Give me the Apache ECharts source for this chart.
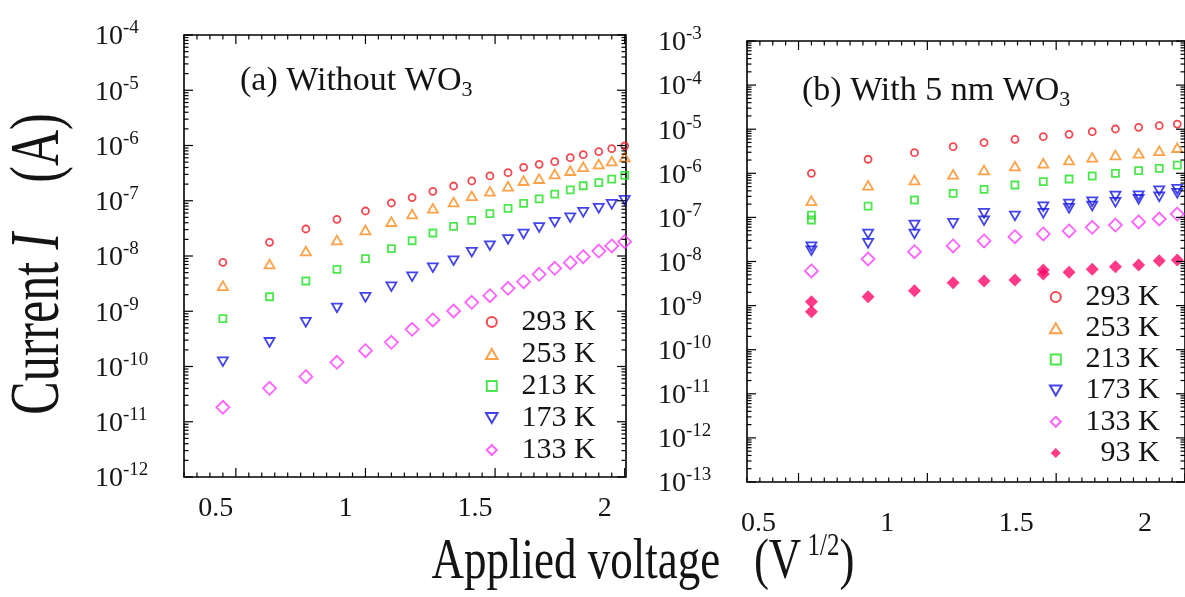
<!DOCTYPE html>
<html>
<head>
<meta charset="utf-8">
<script src="https://cdn.jsdelivr.net/npm/echarts@6/dist/echarts.min.js"></script>
<style>
html,body{margin:0;padding:0;background:#fff;}
#c{width:1185px;height:597px;}
</style>
</head>
<body>
<div id="c"></div>
<script>
// ---------- data (x = V^1/2, y = current in A) ----------
const xA = [0.45, 0.63, 0.77, 0.89, 1.00, 1.10, 1.18, 1.26, 1.34, 1.41, 1.48, 1.55, 1.61, 1.67, 1.73, 1.79, 1.84, 1.90, 1.95, 2.00];
const a293 = [7.69e-9, 1.77e-8, 3.08e-8, 4.61e-8, 6.52e-8, 9.1e-8, 1.14e-7, 1.48e-7, 1.85e-7, 2.28e-7, 2.81e-7, 3.22e-7, 4.03e-7, 4.57e-7, 5.09e-7, 6.01e-7, 6.81e-7, 7.73e-7, 8.75e-7, 9.8e-7];
const a253 = [2.90e-9, 7.16e-9, 1.23e-8, 1.95e-8, 2.96e-8, 4.18e-8, 5.75e-8, 7.30e-8, 9.49e-8, 1.23e-7, 1.48e-7, 1.83e-7, 2.31e-7, 2.51e-7, 3.05e-7, 3.50e-7, 4.13e-7, 4.62e-7, 5.24e-7, 6.19e-7];
const a213 = [7.33e-10, 1.83e-9, 3.53e-9, 5.74e-9, 8.94e-9, 1.36e-8, 1.89e-8, 2.61e-8, 3.45e-8, 4.41e-8, 5.83e-8, 7.30e-8, 8.99e-8, 1.08e-7, 1.32e-7, 1.57e-7, 1.87e-7, 2.12e-7, 2.47e-7, 2.89e-7];
const a173 = [1.22e-10, 2.74e-10, 6.31e-10, 1.15e-9, 1.79e-9, 2.78e-9, 4.22e-9, 6.14e-9, 8.22e-9, 1.17e-8, 1.54e-8, 2.00e-8, 2.50e-8, 3.28e-8, 4.09e-8, 4.93e-8, 6.18e-8, 7.30e-8, 8.63e-8, 1.02e-7];
const a133 = [1.83e-11, 4.03e-11, 6.53e-11, 1.19e-10, 1.93e-10, 2.74e-10, 4.71e-10, 6.95e-10, 1.01e-9, 1.45e-9, 1.91e-9, 2.60e-9, 3.43e-9, 4.67e-9, 5.99e-9, 7.57e-9, 9.71e-9, 1.23e-8, 1.52e-8, 1.82e-8];

const xB = [0.55, 0.77, 0.95, 1.10, 1.22, 1.34, 1.45, 1.55, 1.64, 1.73, 1.82, 1.90, 1.97];
const b293 = [1.0e-6, 2.08e-6, 2.93e-6, 4.01e-6, 4.94e-6, 5.90e-6, 6.76e-6, 7.66e-6, 8.77e-6, 1.01e-5, 1.10e-5, 1.20e-5, 1.31e-5];
const b253 = [2.39e-7, 5.35e-7, 7.05e-7, 9.49e-7, 1.19e-6, 1.46e-6, 1.69e-6, 2.00e-6, 2.31e-6, 2.60e-6, 2.84e-6, 3.25e-6, 3.81e-6];
const b213 = [1.13e-7, 1.81e-7, 2.48e-7, 3.52e-7, 4.34e-7, 5.43e-7, 6.45e-7, 7.43e-7, 8.69e-7, 1.0e-6, 1.15e-6, 1.30e-6, 1.54e-6];
const b213b = [8.73e-8, null, null, null, null, null, null, null, null, null, null, null, null];
const b173 = [2.17e-8, 4.21e-8, 6.72e-8, 7.35e-8, 1.24e-7, 1.08e-7, 1.75e-7, 2.01e-7, 2.27e-7, 3.05e-7, 3.10e-7, 4.03e-7, 4.34e-7];
const b173b = [1.76e-8, 2.59e-8, 4.21e-8, null, 8.41e-8, null, 1.24e-7, 1.61e-7, 1.81e-7, 2.20e-7, 2.57e-7, 2.94e-7, 3.52e-7];
const b133 = [6.10e-9, 1.14e-8, 1.67e-8, 2.25e-8, 2.92e-8, 3.65e-8, 4.21e-8, 4.92e-8, 5.96e-8, 6.72e-8, 7.87e-8, 9.20e-8, 1.19e-7];
const b93 = [1.22e-9, 1.59e-9, 2.18e-9, 3.30e-9, 3.61e-9, 3.81e-9, 6.41e-9, 5.69e-9, 6.65e-9, 7.62e-9, 8.33e-9, 1.04e-8, 1.08e-8];
const b93b = [7.27e-10, null, null, null, null, null, 5.21e-9, null, null, null, null, null, null];

const namesA = ['293 K', '253 K', '213 K', '173 K', '133 K'];
const namesB = ['293 K', '253 K', '213 K', '173 K', '133 K', '93 K'];
const xTickLabels = [0.5, 1, 1.5, 2];
const yDecadesA = [-12, -11, -10, -9, -8, -7, -6, -5, -4];
const yDecadesB = [-13, -12, -11, -10, -9, -8, -7, -6, -5, -4, -3];
const minorMult = [2, 3, 4, 5, 6, 7, 8, 9];

// ---------- helpers ----------
const FONT = '"Liberation Serif", "Times New Roman", serif';
const TXT = '#141414';
const C = {r:'#ee1c24', o:'#ff8a1c', g:'#22e022', b:'#1414e6', m:'#ff3cff', p:'#ff0a6c'};
const SYM = {
  circle:'circle',
  rect:'path://M0,0L10,0L10,10L0,10Z',
  diamond:'path://M5,0L10,5L5,10L0,5Z',
  up:'path://M5,0L10,8.66L0,8.66Z',
  down:'path://M0,0L10,0L5,8.66Z'
};
function pts(xs, ys){ const out=[]; ys.forEach((v,i)=>{ if(v!=null) out.push([xs[i], Math.log10(v)]); }); return out; }
function sc(name, gi, xs, ys, sym, size, color, filled){
  return {type:'scatter', name, xAxisIndex:gi, yAxisIndex:gi, data:pts(xs,ys), symbol:sym, symbolSize:size,
    symbolKeepAspect:true, z:2,
    itemStyle:{color: filled?color:'rgba(0,0,0,0)', borderColor:color, borderWidth: filled?0:1.8}};
}
const xLimA=[0.3,2.005], yLimA=[-12,-4];
const xLimB=[0.3,2.0], yLimB=[-13,-3];

function xTickData(lo, hi){ const out=[]; for(let k=Math.ceil(lo/0.05-1e-9); k*0.05<=hi+1e-9; k++){ out.push([+(k*0.05).toFixed(2), 0, k%10===0?1:0]); } return out; }
function yTickData(decs){ const out=[]; decs.forEach((e,i)=>{ out.push([0,e,1]); if(i<decs.length-1) minorMult.forEach(m=>out.push([0,e+Math.log10(m),0])); }); return out; }
function xTickSeries(gi, xl, yl){
  return {type:'custom', xAxisIndex:gi, yAxisIndex:gi, silent:true, z:5, data:xTickData(xl[0], xl[1]),
    renderItem:(p,api)=>{ const v=api.value(0), len=api.value(2)?9:4.5;
      const b=api.coord([v,yl[0]]), t=api.coord([v,yl[1]]);
      return {type:'group',children:[
        {type:'line',shape:{x1:b[0],y1:b[1],x2:b[0],y2:b[1]-len},style:{stroke:'#000',lineWidth:1.2}},
        {type:'line',shape:{x1:t[0],y1:t[1],x2:t[0],y2:t[1]+len},style:{stroke:'#000',lineWidth:1.2}}]};}};
}
function yTickSeries(gi, xl, decs){
  return {type:'custom', xAxisIndex:gi, yAxisIndex:gi, silent:true, z:5, data:yTickData(decs),
    renderItem:(p,api)=>{ const v=api.value(1), len=api.value(2)?9:4.5;
      const l=api.coord([xl[0],v]), r=api.coord([xl[1],v]);
      return {type:'group',children:[
        {type:'line',shape:{x1:l[0],y1:l[1],x2:l[0]+len,y2:l[1]},style:{stroke:'#000',lineWidth:1.2}},
        {type:'line',shape:{x1:r[0],y1:r[1],x2:r[0]-len,y2:r[1]},style:{stroke:'#000',lineWidth:1.2}}]};}};
}
function fmtX(v){ const hit = xTickLabels.find(t=>Math.abs(t-v)<1e-6); return hit===undefined?'':String(hit); }
function fmtY(v){ return '{b|10}{s|' + Math.round(v) + '}'; }
const yRich = {b:{fontFamily:FONT,fontSize:28,color:TXT,lineHeight:32,verticalAlign:'bottom'},
               s:{fontFamily:FONT,fontSize:19,color:TXT,lineHeight:19,verticalAlign:'top'}};
function xAx(gi, lim, margin, shift){
  return {gridIndex:gi, type:'value', min:lim[0], max:lim[1], interval:0.1,
    axisLine:{show:false}, axisTick:{show:false}, splitLine:{show:false},
    axisLabel:{margin, fontFamily:FONT, fontSize:28, color:TXT, padding:[0,shift,0,0], formatter:fmtX, showMaxLabel:true}};
}
function yAx(gi, lim){
  return {gridIndex:gi, type:'value', min:lim[0], max:lim[1], interval:1,
    axisLine:{show:false}, axisTick:{show:false}, splitLine:{show:false},
    axisLabel:{margin:89, align:'left', formatter:fmtY, rich:yRich}};
}
function legend(names, left, top, gap){
  return {orient:'vertical', left, top, itemWidth:50, itemHeight:10, itemGap:gap, selectedMode:false,
    data:names, formatter:n=>'{t|'+n+'}',
    textStyle:{fontFamily:FONT, fontSize:30, color:TXT,
      rich:{t:{fontFamily:FONT,fontSize:30,color:TXT,width:74,align:'right',lineHeight:30}}}};
}

const option = {
  animation:false,
  backgroundColor:'#fff',
  grid:[
    {left:184, top:35, width:442, height:442, show:true, borderColor:'#000', borderWidth:1.6},
    {left:747, top:41, width:442, height:441, show:true, borderColor:'#000', borderWidth:1.6}
  ],
  xAxis:[xAx(0, xLimA, 18, 40), xAx(1, xLimB, 28, 80)],
  yAxis:[yAx(0, yLimA), yAx(1, yLimB)],
  legend:[legend(namesA, 480, 302, 2), legend(namesB, 1044, 277, 1.2)],
  graphic:[
    {type:'text', x:40, y:264, rotation:Math.PI/2, scaleY:1.38,
      style:{text:'{n|Current }{i|I}{n|    (A)}', align:'center', verticalAlign:'middle', textAlign:'center', textVerticalAlign:'middle',
        rich:{n:{fontFamily:FONT,fontSize:50,fill:TXT,color:TXT}, i:{fontFamily:FONT,fontSize:50,fontStyle:'italic',fill:TXT,color:TXT}}}},
    {type:'text', x:643, y:563, scaleY:1.28,
      style:{text:'{n|Applied voltage   (V}{s| 1/2}{n|)}', align:'center', verticalAlign:'middle', textAlign:'center', textVerticalAlign:'middle',
        rich:{n:{fontFamily:FONT,fontSize:45,lineHeight:50,fill:TXT,color:TXT}, s:{fontFamily:FONT,fontSize:25,lineHeight:26,verticalAlign:'top',fill:TXT,color:TXT}}}},
    {type:'text', x:240, y:81,
      style:{text:'{n|(a) Without WO}{u|3}', align:'left', verticalAlign:'middle', textAlign:'left', textVerticalAlign:'middle',
        rich:{n:{fontFamily:FONT,fontSize:34,lineHeight:40,fill:TXT,color:TXT}, u:{fontFamily:FONT,fontSize:22,lineHeight:22,verticalAlign:'bottom',fill:TXT,color:TXT}}}},
    {type:'text', x:802, y:91,
      style:{text:'{n|(b) With 5 nm WO}{u|3}', align:'left', verticalAlign:'middle', textAlign:'left', textVerticalAlign:'middle',
        rich:{n:{fontFamily:FONT,fontSize:34,lineHeight:40,fill:TXT,color:TXT}, u:{fontFamily:FONT,fontSize:22,lineHeight:22,verticalAlign:'bottom',fill:TXT,color:TXT}}}}
  ],
  series:[
    sc('293 K',0,xA,a293,SYM.circle,7,C.r),
    sc('253 K',0,xA,a253,SYM.up,10,C.o),
    sc('213 K',0,xA,a213,SYM.rect,7,C.g),
    sc('173 K',0,xA,a173,SYM.down,10,C.b),
    sc('133 K',0,xA,a133,SYM.diamond,13,C.m),
    sc('293 K',1,xB,b293,SYM.circle,7,C.r),
    sc('253 K',1,xB,b253,SYM.up,10,C.o),
    sc('213 K',1,xB,b213,SYM.rect,7,C.g),
    sc('213 K',1,xB,b213b,SYM.rect,7,C.g),
    sc('173 K',1,xB,b173,SYM.down,10,C.b),
    sc('173 K',1,xB,b173b,SYM.down,10,C.b),
    sc('133 K',1,xB,b133,SYM.diamond,13,C.m),
    sc('93 K',1,xB,b93,SYM.diamond,13,C.p,true),
    sc('93 K',1,xB,b93b,SYM.diamond,13,C.p,true),
    xTickSeries(0, xLimA, yLimA), yTickSeries(0, xLimA, yDecadesA),
    xTickSeries(1, xLimB, yLimB), yTickSeries(1, xLimB, yDecadesB)
  ]
};
const chart = echarts.init(document.getElementById('c'), null, {renderer:'canvas'});
chart.setOption(option);
</script>
</body>
</html>
